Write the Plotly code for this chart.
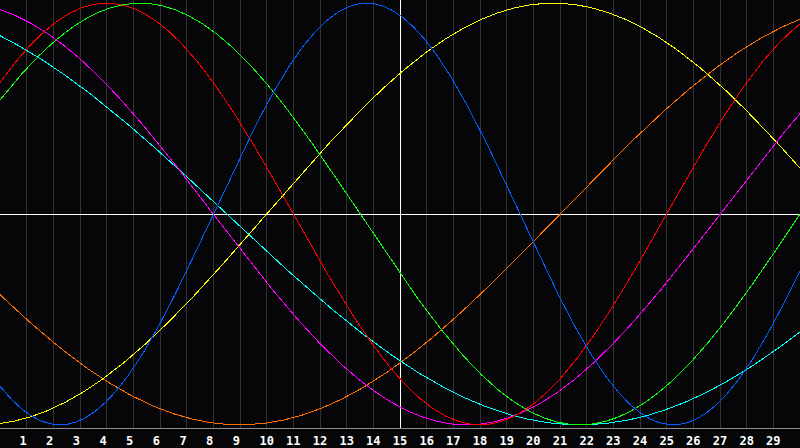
import numpy as np
import plotly.graph_objects as go

# Biorhythm cycles (period in days)
cycle_names = ["Awareness", "Spiritual", "Aesthetic", "Intuitive", "Intellectual", "Emotional", "Physical"]
cycle_periods = [48, 53, 43, 38, 33, 28, 23]
cycle_colors = ["#ff7000", "#00ffff", "#ffff00", "#ff00ff", "#10ff10", "#ff0000", "#0060ff"]
days_since_birth_at_start = 24027   # day count at the left edge of the chart
chart_days = 30
today_day = 15
day_labels = [str(d) for d in range(1, 30)]
day_ticks = list(range(1, 30))

W, H, B = 800, 448, 20
y_lim = 1.015

t = np.linspace(0, chart_days, 1201)

fig = go.Figure()

# reference lines: today (vertical) and zero level (horizontal), under the curves
fig.add_trace(go.Scatter(x=[today_day, today_day], y=[-y_lim, y_lim], mode="lines",
                         line=dict(color="white", width=1), hoverinfo="skip", name="today"))
fig.add_trace(go.Scatter(x=[0, chart_days], y=[0, 0], mode="lines",
                         line=dict(color="white", width=1), hoverinfo="skip", name="zero"))

for name, period, color in zip(cycle_names, cycle_periods, cycle_colors):
    y = np.sin(2 * np.pi * (days_since_birth_at_start + t) / period)
    fig.add_trace(go.Scatter(x=t, y=y, mode="lines", name=name,
                             line=dict(color=color, width=1), hoverinfo="skip"))

ticktext = [lbl + "\u00a0" if len(lbl) == 1 else lbl for lbl in day_labels]

fig.update_layout(
    width=W, height=H,
    margin=dict(l=0, r=0, t=0, b=B),
    paper_bgcolor="#060608",
    plot_bgcolor="#060608",
    showlegend=False,
    xaxis=dict(range=[0, chart_days], tickvals=day_ticks, ticktext=ticktext,
               showgrid=True, gridcolor="#333333", gridwidth=1, zeroline=False,
               showline=True, mirror=True, linecolor="#8c8c8c", linewidth=1,
               ticks="", ticklabelstandoff=2,
               tickfont=dict(family="DejaVu Sans Mono", size=12, color="white", weight="bold"),
               fixedrange=True),
    yaxis=dict(range=[-y_lim, y_lim], showgrid=False, zeroline=False,
               showticklabels=False, showline=True, mirror=True,
               linecolor="#8c8c8c", linewidth=1, fixedrange=True),
)

post = """
document.body.style.margin = '0';
document.body.style.padding = '0';
document.body.style.background = '#060608';
var st = document.createElement('style');
st.textContent = '.js-plotly-plot .scatterlayer path { shape-rendering: crispEdges !important; }';
document.head.appendChild(st);
"""
fig.write_html("out.html", post_script=post, config={"displayModeBar": False})
